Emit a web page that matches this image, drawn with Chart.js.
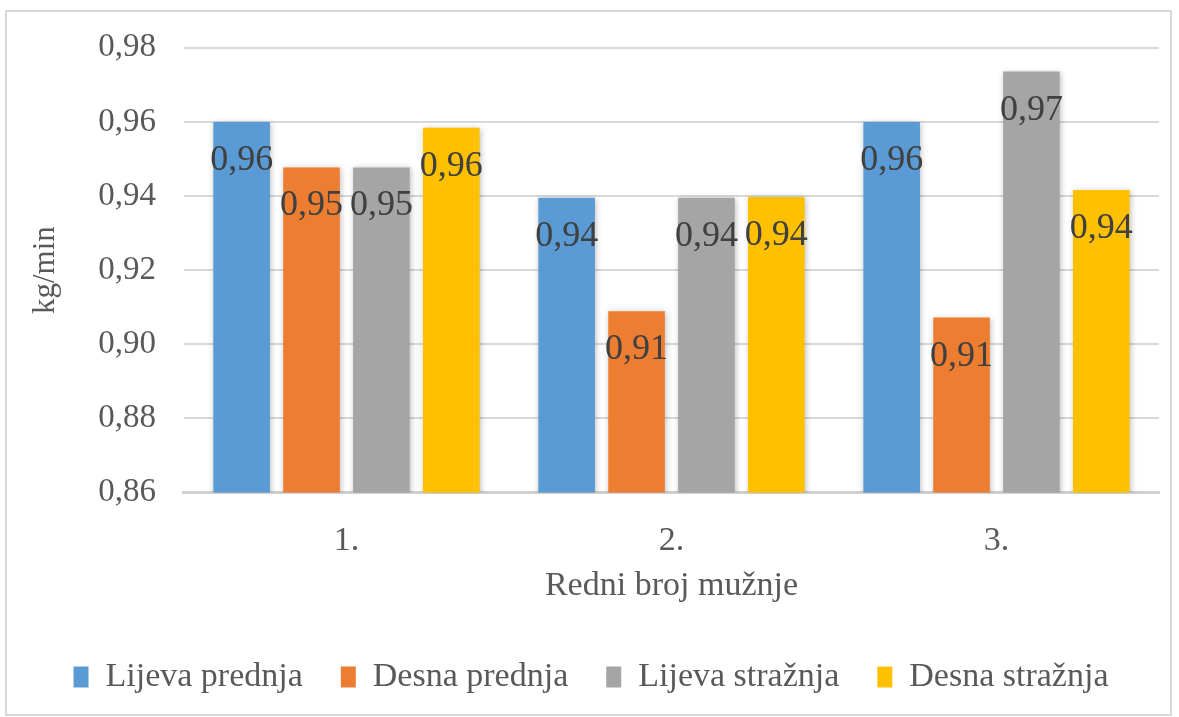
<!DOCTYPE html>
<html>
<head>
<meta charset="utf-8">
<script src="https://cdn.jsdelivr.net/npm/chart.js@4/dist/chart.umd.min.js"></script>
<style>
  html, body { margin: 0; padding: 0; background: #fff; }
  #frame { position: absolute; left: 5px; top: 10px; width: 1163px; height: 702px; border: 2px solid #d9d9d9; }
  #wrap { position: absolute; left: 0; top: 0; width: 1179px; height: 717px; }
</style>
</head>
<body>
<div id="frame"></div>
<div id="wrap"><canvas id="c" width="1179" height="717"></canvas></div>
<script>
const categories = ['1.', '2.', '3.'];
const seriesNames = ['Lijeva prednja', 'Desna prednja', 'Lijeva stražnja', 'Desna stražnja'];
const lijevaPrednja = [0.960, 0.9395, 0.960];
const desnaPrednja = [0.9477, 0.9089, 0.9072];
const lijevaStraznja = [0.9477, 0.9395, 0.9736];
const desnaStraznja = [0.9584, 0.9397, 0.9416];
const colors = ['#5B9BD5', '#ED7D31', '#A5A5A5', '#FFC000'];

const fmt = (v) => v.toFixed(2).replace('.', ',');
const serif = '"Liberation Serif", "DejaVu Serif", serif';

// labels just under the top of each bar
const barLabels = {
    id: 'barLabels',
    afterDatasetsDraw(chart) {
        const ctx = chart.ctx;
        ctx.save();
        ctx.font = '36px ' + serif;
        ctx.fillStyle = '#404040';
        ctx.textAlign = 'center';
        ctx.textBaseline = 'alphabetic';
        chart.data.datasets.forEach((ds, i) => {
            chart.getDatasetMeta(i).data.forEach((bar, j) => {
                ctx.fillText(fmt(ds.data[j]), bar.x, bar.y + 48);
            });
        });
        ctx.restore();
    }
};

// soft shadow behind bars
const barShadow = {
    id: 'barShadow',
    beforeDatasetsDraw(chart) {
        const ctx = chart.ctx;
        ctx.save();
        ctx.shadowColor = 'rgba(0,0,0,0.25)';
        ctx.shadowBlur = 6;
        ctx.shadowOffsetX = 1;
        ctx.shadowOffsetY = 1;
    },
    afterDatasetsDraw(chart) { chart.ctx.restore(); }
};

const data = [lijevaPrednja, desnaPrednja, lijevaStraznja, desnaStraznja];

new Chart(document.getElementById('c').getContext('2d'), {
    type: 'bar',
    data: {
        labels: categories,
        datasets: seriesNames.map((name, i) => ({
            label: name,
            data: data[i],
            backgroundColor: colors[i],
            categoryPercentage: 0.86,
            barPercentage: 0.81
        }))
    },
    options: {
        animation: false,
        responsive: false,
        layout: { padding: { left: 23, right: 20, top: 30, bottom: 13 } },
        scales: {
            x: {
                grid: { display: false, drawTicks: false },
                border: { color: '#d0d0d0', width: 3 },
                ticks: { color: '#595959', font: { family: serif, size: 34 }, padding: 28 },
                title: { display: true, text: 'Redni broj mužnje', color: '#595959', font: { family: serif, size: 34 }, padding: { top: -24, bottom: 16 } }
            },
            y: {
                min: 0.86,
                max: 0.98,
                grid: { color: '#d9d9d9', lineWidth: 2, drawTicks: false },
                border: { display: false },
                ticks: { stepSize: 0.02, color: '#595959', font: { family: serif, size: 33 }, padding: 28, callback: (v) => fmt(v) },
                title: { display: true, text: 'kg/min', color: '#595959', font: { family: serif, size: 31 }, padding: { bottom: 6 } }
            }
        },
        plugins: {
            legend: {
                position: 'bottom',
                labels: { boxWidth: 15, boxHeight: 21, color: '#595959', font: { family: serif, size: 34 }, padding: 38 }
            },
            tooltip: { enabled: false }
        }
    },
    plugins: [barShadow, barLabels]
});
</script>
</body>
</html>
